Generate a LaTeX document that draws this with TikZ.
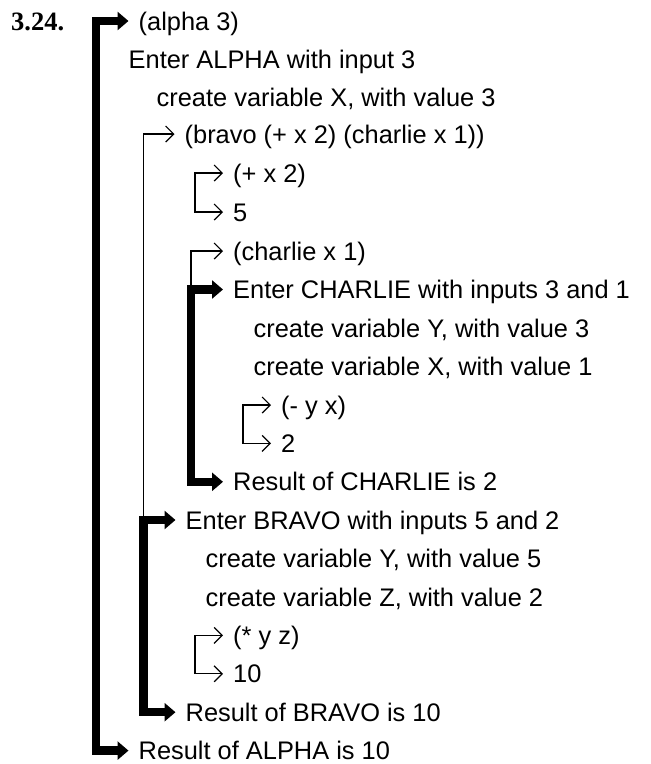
\documentclass[tikz,border=0pt]{standalone}
\usepackage{fontspec}
\setmainfont{Liberation Sans}
\newfontfamily\numfont{Liberation Serif}
\usetikzlibrary{arrows.meta}
\begin{document}
\begin{tikzpicture}[x=1pt,y=-1pt,
  txt/.style={anchor=west, inner sep=0pt, text height=18pt, text depth=0pt,
    font=\fontsize{25.4}{30}\selectfont},
  numlabel/.style={anchor=west, inner sep=0pt, text height=18pt, text depth=0pt,
    font=\numfont\bfseries\fontsize{26.5}{30}\selectfont},
  bigarr/.style={line width=8.5pt, line join=miter,
    {Triangle[length=11pt,width=18pt]}-{Triangle[length=11pt,width=18pt]}},
  smallarr/.style={line width=1.2pt, line join=miter,
    {Straight Barb[length=8pt,width=16pt]}-{Straight Barb[length=8pt,width=16pt]}},
  callarr/.style={line width=1.2pt, line join=miter,
    {Straight Barb[length=8pt,width=16pt]}-}]
\useasboundingbox (0,0) rectangle (651,764);

\node[numlabel] (num) at (11,21) {3.24.};

\node[txt] (t1)  at (138.5,21)    {(alpha 3)};
\node[txt] (t2)  at (128.5,59.4)  {Enter ALPHA with input 3};
\node[txt] (t3)  at (156.5,97.8)  {create variable X, with value 3};
\node[txt] (t4)  at (184.5,134)   {(bravo (+ x 2) (charlie x 1))};
\node[txt] (t5)  at (233,173)     {(+ x 2)};
\node[txt] (t6)  at (233,212)     {5};
\node[txt] (t7)  at (233,251)     {(charlie x 1)};
\node[txt] (t8)  at (233,289.5)   {Enter CHARLIE with inputs 3 and 1};
\node[txt] (t9)  at (253.5,328.2) {create variable Y, with value 3};
\node[txt] (t10) at (253.5,366.6) {create variable X, with value 1};
\node[txt] (t11) at (281,405)     {(- y x)};
\node[txt] (t12) at (281,443.4)   {2};
\node[txt] (t13) at (233,481.8)   {Result of CHARLIE is 2};
\node[txt] (t14) at (185.5,520)   {Enter BRAVO with inputs 5 and 2};
\node[txt] (t15) at (205.5,558.6) {create variable Y, with value 5};
\node[txt] (t16) at (205.5,597)   {create variable Z, with value 2};
\node[txt] (t17) at (233,635.4)   {(* y z)};
\node[txt] (t18) at (233,673.8)   {10};
\node[txt] (t19) at (185.5,712.2) {Result of BRAVO is 10};
\node[txt] (t20) at (138.5,750.6) {Result of ALPHA is 10};

% spine coordinates
\coordinate (av) at (96,21);
\coordinate (bv) at (143.5,520);
\coordinate (cv) at (191,289.5);

% ALPHA
\draw[bigarr] ([xshift=-10pt]t1.west) -- (av) |- ([xshift=-10pt]t20.west);
% BRAVO call and body
\draw[callarr] ([xshift=-10pt]t4.west) -| (bv);
\draw[bigarr] ([xshift=-10pt]t14.west) -- (bv) |- ([xshift=-10pt]t19.west);
% (+ x 2)
\draw[smallarr] ([xshift=-10pt]t5.west) -- ++(-28,0) |- ([xshift=-10pt]t6.west);
% CHARLIE call and body
\draw[callarr] ([xshift=-10pt]t7.west) -| (cv);
\draw[bigarr] ([xshift=-10pt]t8.west) -- (cv) |- ([xshift=-10pt]t13.west);
% (- y x)
\draw[smallarr] ([xshift=-10pt]t11.west) -- ++(-28,0) |- ([xshift=-10pt]t12.west);
% (* y z)
\draw[smallarr] ([xshift=-10pt]t17.west) -- ++(-28,0) |- ([xshift=-10pt]t18.west);
\end{tikzpicture}
\end{document}
